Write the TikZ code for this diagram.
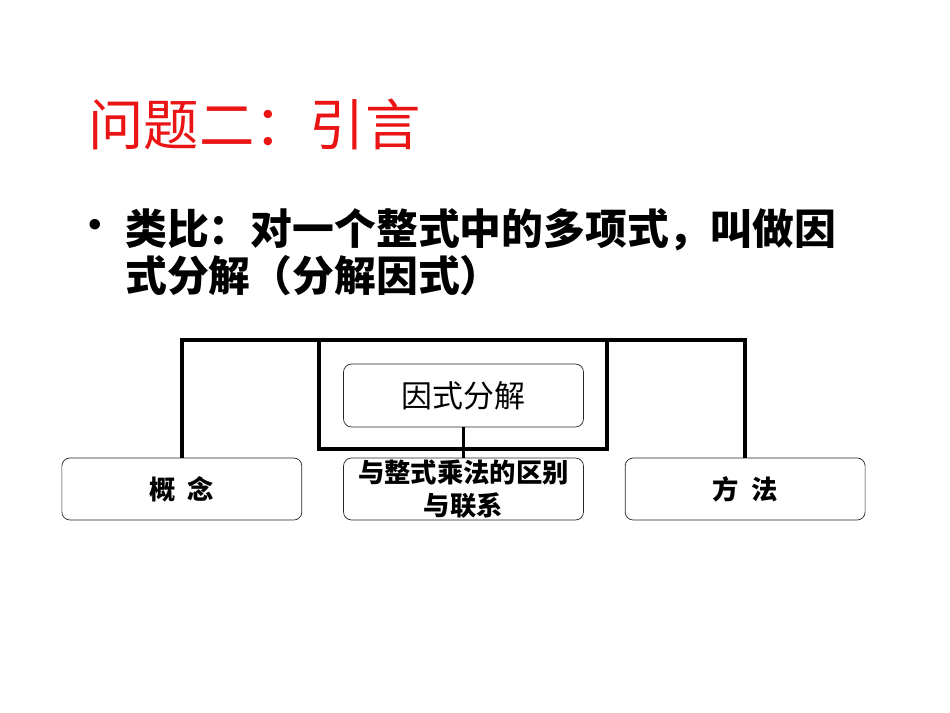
\documentclass[tikz,border=0pt]{standalone}
\usepackage{fontspec}
\newfontfamily\cjk{Noto Sans CJK SC}
\newfontfamily\dotfont{Liberation Sans}
\usepackage{tikz}
\usetikzlibrary{positioning}
\definecolor{titlered}{RGB}{235,20,20}

\begin{document}
\begin{tikzpicture}[
    x=0.02cm, y=-0.02cm,
    item/.style={rectangle, draw=black!85, fill=white, minimum width=4.8cm, minimum height=1.24cm, text centered, align=center, rounded corners=0.16cm, inner sep=1pt, font=\cjk\bfseries\fontsize{15}{18.7}\selectfont},
    frame/.style={rectangle, draw, line width=2pt, minimum width=5.76cm, minimum height=2.18cm},
    body/.style={anchor=base west, inner sep=0pt, font=\cjk\bfseries\fontsize{23.8}{26.7}\selectfont},
    link/.style={line width=2pt}
]
\useasboundingbox (0,0) rectangle (950,713);

% title and text
\node[anchor=base west, inner sep=0pt, text=titlered, font=\cjk\fontsize{31.5}{36}\selectfont] (title) at (88,146) {问题二：引言};
\node[inner sep=0pt, font=\dotfont\fontsize{22}{24}\selectfont] (dot) at (95,228) {•};
\node[body] (line1) at (125,244) {类比：对一个整式中的多项式，叫做因};
\node[body] (line2) at (125,291) {式分解（分解因式）};

% diagram
\coordinate (ceiling) at (463,340);
\node[frame] (frame) at (463,394.5) {};
\node[item, minimum height=1.26cm, font=\cjk\fontsize{17.6}{20}\selectfont] (fact) at (463.5,395.5) {因式分解};
\node[item] (diff) at (463.5,489) {与整式乘法的区别\\与联系};
\node[item, left=0.82cm of diff] (concept) {概\hspace{0.45em}念};
\node[item, right=0.82cm of diff] (method) {方\hspace{0.45em}法};

\draw[link] (concept.north) |- (ceiling) -| (method.north);
\draw[link] (fact) -- (diff);

\end{tikzpicture}
\end{document}
